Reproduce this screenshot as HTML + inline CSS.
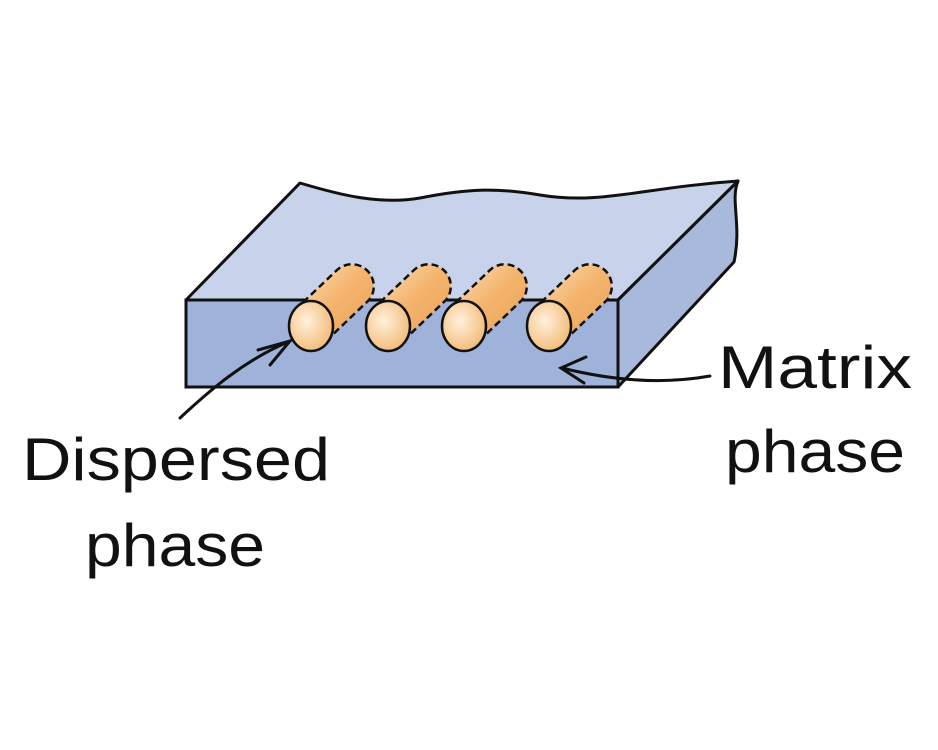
<!DOCTYPE html>
<html><head><meta charset="utf-8"><style>
html,body{margin:0;padding:0;background:#fff;}
svg{display:block}
text{font-family:"Liberation Sans",sans-serif;fill:#111;font-size:60px}
</style></head><body>
<svg width="938" height="750" viewBox="0 0 938 750">
<defs>
<linearGradient id="cyl" x1="0" y1="0" x2="1" y2="1">
<stop offset="0" stop-color="#fde3bf"/><stop offset="0.5" stop-color="#f4b36c"/><stop offset="1" stop-color="#e8a258"/>
</linearGradient>
<radialGradient id="endc" cx="0.4" cy="0.4" r="0.7">
<stop offset="0" stop-color="#fff1dc"/><stop offset="1" stop-color="#f2b56e"/>
</radialGradient>
</defs>
<path d="M186,300 L300,183 C340,195 380,205 420,198 C470,188 500,188 540,195 C600,205 640,188 738,181 L618,300 Z" fill="#c8d2ea" stroke="#111" stroke-width="3" stroke-linejoin="round"/>
<path d="M618,300 L738,181 C730,200 742,225 734,262 L618,387 Z" fill="#a8b9dc" stroke="#111" stroke-width="3" stroke-linejoin="round"/>
<rect x="186" y="300" width="432" height="87" fill="#9fb3da" stroke="#111" stroke-width="3"/>
<g stroke="#111" stroke-width="2.5">
<g transform="translate(311,326)">
<path d="M-16,-16 L26,-56 A22,22 0 0 1 58,-26 L16,14 Z" fill="url(#cyl)" stroke-dasharray="7,4"/>
<ellipse cx="0" cy="0" rx="22" ry="25" fill="url(#endc)"/>
</g>
<g transform="translate(388,326)">
<path d="M-16,-16 L26,-56 A22,22 0 0 1 58,-26 L16,14 Z" fill="url(#cyl)" stroke-dasharray="7,4"/>
<ellipse cx="0" cy="0" rx="22" ry="25" fill="url(#endc)"/>
</g>
<g transform="translate(464,326)">
<path d="M-16,-16 L26,-56 A22,22 0 0 1 58,-26 L16,14 Z" fill="url(#cyl)" stroke-dasharray="7,4"/>
<ellipse cx="0" cy="0" rx="22" ry="25" fill="url(#endc)"/>
</g>
<g transform="translate(549,326)">
<path d="M-16,-16 L26,-56 A22,22 0 0 1 58,-26 L16,14 Z" fill="url(#cyl)" stroke-dasharray="7,4"/>
<ellipse cx="0" cy="0" rx="22" ry="25" fill="url(#endc)"/>
</g>
</g>
<g stroke="#111" stroke-width="3" fill="none" stroke-linecap="round">
<path d="M180,418 C210,390 245,360 288,342"/>
<path d="M258,350 L290,341 L270,365"/>
<path d="M710,376 C660,385 610,380 562,368"/>
<path d="M586,357 L561,368 L584,383"/>
</g>
<text x="22" y="480" textLength="308" lengthAdjust="spacingAndGlyphs">Dispersed</text>
<text x="85" y="566" textLength="180" lengthAdjust="spacingAndGlyphs">phase</text>
<text x="718" y="388" textLength="194" lengthAdjust="spacingAndGlyphs">Matrix</text>
<text x="725" y="472" textLength="180" lengthAdjust="spacingAndGlyphs">phase</text>
</svg>
</body></html>
